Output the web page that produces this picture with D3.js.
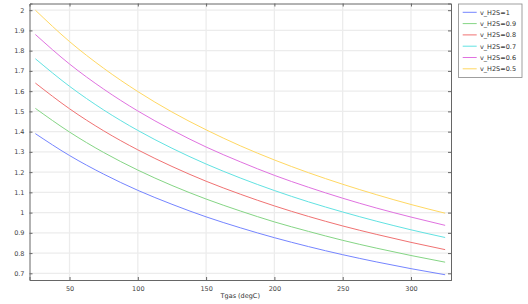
<html>
<head>
	<script src="https://d3js.org/d3.v7.min.js"></script>
	<style>
		body { margin: 0; background: #fff; }
		text { font-family: "DejaVu Sans", sans-serif; }
	</style>
</head>
<body>
<script>

let temps = [25, 50, 75, 100, 125, 150, 175, 200, 225, 250, 275, 300, 325];

let v1   = [1.390, 1.282, 1.190, 1.110, 1.041, 0.979, 0.925, 0.876, 0.832, 0.792, 0.756, 0.723, 0.693];
let v09  = [1.515, 1.398, 1.297, 1.210, 1.134, 1.067, 1.008, 0.954, 0.907, 0.863, 0.824, 0.788, 0.755];
let v08  = [1.640, 1.513, 1.404, 1.310, 1.228, 1.155, 1.091, 1.033, 0.981, 0.934, 0.892, 0.853, 0.817];
let v07  = [1.760, 1.624, 1.507, 1.406, 1.318, 1.240, 1.171, 1.109, 1.053, 1.003, 0.957, 0.915, 0.877];
let v06  = [1.880, 1.734, 1.610, 1.502, 1.408, 1.324, 1.251, 1.184, 1.125, 1.071, 1.022, 0.978, 0.937];
let v05  = [2.000, 1.845, 1.713, 1.598, 1.497, 1.409, 1.330, 1.260, 1.197, 1.140, 1.088, 1.040, 0.997];

let names  = ["v_H2S=1", "v_H2S=0.9", "v_H2S=0.8", "v_H2S=0.7", "v_H2S=0.6", "v_H2S=0.5"];
let colors = ["#7585ff", "#85d585", "#f07272", "#62e2e2", "#e072e0", "#ffd862"];

let xTicks = [50, 100, 150, 200, 250, 300];
let yTicks = [0.7, 0.8, 0.9, 1, 1.1, 1.2, 1.3, 1.4, 1.5, 1.6, 1.7, 1.8, 1.9, 2];

let series = [v1, v09, v08, v07, v06, v05];

let canvasW = 528;
let canvasH = 304;
let plotL = 29.5, plotR = 451, plotT = 3.5, plotB = 280;

let svg = d3.select("body").append("svg")
	.attr("width", canvasW)
	.attr("height", canvasH);

let x = d3.scaleLinear()
	.domain([20.7, 329.3])
	.range([plotL, plotR]);

let y = d3.scaleLinear()
	.domain([0.667, 2.033])
	.range([plotB, plotT]);

// grid
svg.append("g").selectAll("line")
	.data(xTicks)
	.join("line")
	.attr("x1", d => x(d)).attr("x2", d => x(d))
	.attr("y1", plotT).attr("y2", plotB)
	.attr("stroke", "#ececec")
	.attr("stroke-width", 1.3);

svg.append("g").selectAll("line")
	.data(yTicks)
	.join("line")
	.attr("x1", plotL).attr("x2", plotR)
	.attr("y1", d => y(d)).attr("y2", d => y(d))
	.attr("stroke", "#ececec")
	.attr("stroke-width", 1.3);

// curves
let line = d3.line()
	.x((d, i) => x(temps[i]))
	.y(d => y(d))
	.curve(d3.curveMonotoneX);

svg.append("g").selectAll("path")
	.data(series)
	.join("path")
	.attr("d", d => line(d))
	.attr("fill", "none")
	.attr("stroke", (d, i) => colors[i])
	.attr("stroke-width", 1);

// axes, ticks inside on all four sides
let axisColor = "#666";
svg.append("g")
	.attr("transform", `translate(0,${plotB})`)
	.call(d3.axisBottom(x).tickValues(xTicks).tickSize(-3).tickPadding(6))
	.call(g => g.select(".domain").attr("stroke", axisColor))
	.call(g => g.selectAll(".tick line").attr("stroke", axisColor))
	.call(g => g.selectAll("text").attr("fill", "#444").attr("font-size", "6.5px").attr("font-family", "DejaVu Sans"));

svg.append("g")
	.attr("transform", `translate(${plotL},0)`)
	.call(d3.axisLeft(y).tickValues(yTicks).tickSize(-3).tickPadding(5).tickFormat(d3.format("")))
	.call(g => g.select(".domain").attr("stroke", axisColor))
	.call(g => g.selectAll(".tick line").attr("stroke", axisColor))
	.call(g => g.selectAll("text").attr("fill", "#444").attr("font-size", "6.5px").attr("font-family", "DejaVu Sans"));

svg.append("g")
	.attr("transform", `translate(0,${plotT})`)
	.call(d3.axisTop(x).tickValues(xTicks).tickSize(-3).tickFormat(""))
	.call(g => g.select(".domain").attr("stroke", axisColor))
	.call(g => g.selectAll(".tick line").attr("stroke", axisColor));

svg.append("g")
	.attr("transform", `translate(${plotR},0)`)
	.call(d3.axisRight(y).tickValues(yTicks).tickSize(-3).tickFormat(""))
	.call(g => g.select(".domain").attr("stroke", axisColor))
	.call(g => g.selectAll(".tick line").attr("stroke", axisColor));

svg.append("text")
	.attr("x", (plotL + plotR) / 2)
	.attr("y", 298)
	.attr("text-anchor", "middle")
	.attr("font-size", "6.5px")
	.attr("fill", "#333")
	.text("Tgas (degC)");

// legend
let legend = svg.append("g");
legend.append("rect")
	.attr("x", 458.5).attr("y", 4)
	.attr("width", 63.5).attr("height", 73.5)
	.attr("fill", "#fff")
	.attr("stroke", "#888")
	.attr("stroke-width", 0.8);

let rows = legend.selectAll("g.row")
	.data(names)
	.join("g")
	.attr("class", "row")
	.attr("transform", (d, i) => `translate(0,${12.3 + i * 11.3})`);

rows.append("line")
	.attr("x1", 462.7).attr("x2", 476.7)
	.attr("y1", 0).attr("y2", 0)
	.attr("stroke", (d, i) => colors[i])
	.attr("stroke-width", 1);

rows.append("text")
	.attr("x", 480)
	.attr("y", 2.3)
	.attr("font-size", "6.5px")
	.attr("fill", "#333")
	.text(d => d);

</script>
</body>
</html>
